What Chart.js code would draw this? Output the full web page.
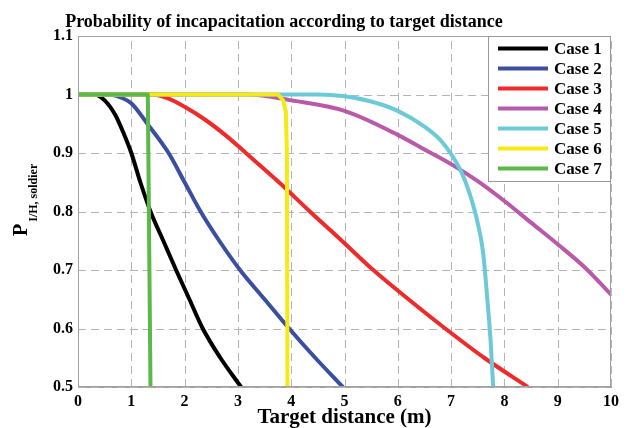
<!DOCTYPE html>
<html><head><meta charset="utf-8">
<script src="https://cdn.jsdelivr.net/npm/chart.js@4"></script>
<style>html,body{margin:0;padding:0;background:#fff}canvas{display:block}</style>
</head><body>
<canvas id="c" width="633" height="428"></canvas>
<script>
// ---- data ----
const caseLabels = ['Case 1', 'Case 2', 'Case 3', 'Case 4', 'Case 5', 'Case 6', 'Case 7'];
const caseColors = ['#000000', '#3a4fa0', '#ee2a2a', '#b85aa8', '#6ccad8', '#f5ea14', '#5cb848'];

const case1X = [0, 0.3, 0.5, 0.7, 0.85, 1.0, 1.17, 1.36, 1.6, 1.84, 2.09, 2.34, 2.67, 3.06];
const case1Y = [1, 1, 0.99, 0.965, 0.935, 0.9, 0.85, 0.8, 0.75, 0.7, 0.65, 0.6, 0.55, 0.5];
const case2X = [0, 0.6, 0.8, 1.0, 1.3, 1.7, 2.0, 2.3, 2.65, 3.04, 3.5, 3.96, 4.45, 4.97];
const case2Y = [1, 1, 0.995, 0.985, 0.95, 0.9, 0.85, 0.8, 0.75, 0.7, 0.65, 0.6, 0.55, 0.5];
const case3X = [0, 1.4, 1.7, 2.0, 2.4, 2.8, 3.15, 3.77, 4.35, 4.95, 5.54, 6.2, 6.89, 7.62, 8.44];
const case3Y = [1, 1, 0.993, 0.979, 0.956, 0.928, 0.9, 0.85, 0.8, 0.75, 0.7, 0.65, 0.6, 0.55, 0.5];
const case4X = [0, 3.2, 4.0, 5.0, 6.0, 6.5, 7.0, 7.5, 8.0, 8.5, 9.0, 9.5, 10];
const case4Y = [1, 1, 0.99, 0.972, 0.931, 0.906, 0.881, 0.852, 0.818, 0.781, 0.744, 0.705, 0.658];
const case5X = [0, 4.5, 5.0, 5.5, 6.0, 6.5, 6.8, 7.0, 7.2, 7.35, 7.5, 7.6, 7.68, 7.74, 7.79];
const case5Y = [1, 1, 0.997, 0.988, 0.972, 0.945, 0.922, 0.898, 0.866, 0.83, 0.78, 0.73, 0.65, 0.58, 0.5];
const case6X = [0, 3.75, 3.85, 3.9, 3.92, 3.93];
const case6Y = [1, 1, 0.99, 0.97, 0.9, 0.5];
const case7X = [0, 1.31, 1.36];
const case7Y = [1, 1, 0.5];

const seriesX = [case1X, case2X, case3X, case4X, case5X, case6X, case7X];
const seriesY = [case1Y, case2Y, case3Y, case4Y, case5Y, case6Y, case7Y];
const seriesTension = [0.3, 0.3, 0.3, 0.3, 0.3, 0, 0];

const xTickLabels = ['0', '1', '2', '3', '4', '5', '6', '7', '8', '9', '10'];
const yTickLabels = ['0.5', '0.6', '0.7', '0.8', '0.9', '1', '1.1'];

const chartTitle = 'Probability of incapacitation according to target distance';
const xAxisTitle = 'Target distance (m)';
const yAxisMain = 'P';
const yAxisSub = 'I/H, soldier';

// ---- styling ----
const SERIF = "'Liberation Serif', 'Times New Roman', serif";
const GRID = '#b4b4b4';
const FRAME = '#a0a0a0';

const datasets = caseLabels.map((label, i) => ({
  label,
  data: seriesX[i].map((x, j) => ({ x, y: seriesY[i][j] })),
  borderColor: caseColors[i],
  backgroundColor: caseColors[i],
  borderWidth: 4,
  pointRadius: 0,
  fill: false,
  tension: seriesTension[i],
  cubicInterpolationMode: seriesTension[i] ? 'monotone' : 'default',
  borderJoinStyle: 'round',
  order: caseLabels.length - i
}));

const decor = {
  id: 'decor',
  beforeDatasetsDraw(chart) {
    const { ctx, chartArea: a, scales: { x, y } } = chart;
    ctx.save();
    ctx.strokeStyle = GRID;
    ctx.lineWidth = 1;
    ctx.setLineDash([8, 5]);
    x.ticks.forEach(t => {
      const px = Math.round(x.getPixelForValue(t.value)) + 0.5;
      ctx.beginPath(); ctx.moveTo(px, a.bottom); ctx.lineTo(px, a.top); ctx.stroke();
    });
    y.ticks.forEach(t => {
      const py = Math.round(y.getPixelForValue(t.value)) + 0.5;
      ctx.beginPath(); ctx.moveTo(a.left, py); ctx.lineTo(a.right, py); ctx.stroke();
    });
    ctx.restore();
  },
  afterDatasetsDraw(chart) {
    const { ctx, chartArea: a } = chart;
    ctx.save();
    ctx.setLineDash([]);
    ctx.strokeStyle = FRAME;
    ctx.lineWidth = 1;
    const L = Math.round(a.left) + 0.5, T = Math.round(a.top) + 0.5;
    const R = Math.round(a.right) - 0.5, B = Math.round(a.bottom) - 0.5;
    ctx.strokeRect(L, T, R - L, B - T);

    // legend
    const lx = 488.5, ly = T, lw = R - lx, lh = 145;
    ctx.fillStyle = '#fff';
    ctx.fillRect(lx, ly, lw, lh);
    ctx.strokeStyle = '#999';
    ctx.strokeRect(lx, ly, lw, lh);
    ctx.font = 'bold 17px ' + SERIF;
    ctx.textBaseline = 'middle';
    ctx.textAlign = 'left';
    caseLabels.forEach((lab, i) => {
      const yy = 48.5 + 20 * i;
      ctx.strokeStyle = caseColors[i];
      ctx.lineWidth = 4;
      ctx.beginPath();
      ctx.moveTo(498, yy);
      ctx.lineTo(548, yy);
      ctx.stroke();
      ctx.fillStyle = '#000';
      ctx.fillText(lab, 554, yy + 1);
    });
    ctx.restore();
  },
  afterDraw(chart) {
    const { ctx } = chart;
    ctx.save();
    ctx.fillStyle = '#000';
    ctx.font = 'bold 18px ' + SERIF;
    ctx.textAlign = 'center';
    ctx.textBaseline = 'alphabetic';
    ctx.fillText(chartTitle, 284, 27);
    // y axis label with subscript
    ctx.translate(27, 236);
    ctx.rotate(-Math.PI / 2);
    ctx.textAlign = 'left';
    ctx.font = 'bold 20px ' + SERIF;
    ctx.fillText(yAxisMain, 0, 0);
    const wP = ctx.measureText(yAxisMain).width;
    ctx.font = 'bold 12px ' + SERIF;
    ctx.fillText(yAxisSub, wP + 2, 10);
    ctx.restore();
  }
};

new Chart(document.getElementById('c'), {
  type: 'line',
  data: { datasets },
  options: {
    responsive: false,
    devicePixelRatio: 1,
    animation: false,
    layout: { padding: { top: 36, right: 22, left: 0, bottom: 0 } },
    plugins: {
      legend: { display: false },
      title: { display: false },
      tooltip: { enabled: false }
    },
    scales: {
      x: {
        type: 'linear',
        min: 0, max: 10,
        afterFit: s => { s.height = 41; },
        ticks: {
          stepSize: 1,
          padding: 5,
          maxRotation: 0,
          color: '#000',
          font: { family: SERIF, weight: 'bold', size: 16 },
          callback: (v, i) => xTickLabels[i]
        },
        grid: { display: false, drawTicks: false },
        border: { display: true, color: FRAME },
        title: {
          display: true,
          text: xAxisTitle,
          color: '#000',
          font: { family: SERIF, weight: 'bold', size: 21, lineHeight: 1.0 },
          padding: { top: 0, bottom: 0 }
        }
      },
      y: {
        type: 'linear',
        min: 0.5, max: 1.1,
        afterFit: s => { s.width = 78; },
        ticks: {
          stepSize: 0.1,
          padding: 5,
          color: '#000',
          font: { family: SERIF, weight: 'bold', size: 16 },
          callback: (v, i) => yTickLabels[i]
        },
        grid: { display: false, drawTicks: false },
        border: { display: true, color: FRAME }
      }
    }
  },
  plugins: [decor]
});
</script>
</body></html>
